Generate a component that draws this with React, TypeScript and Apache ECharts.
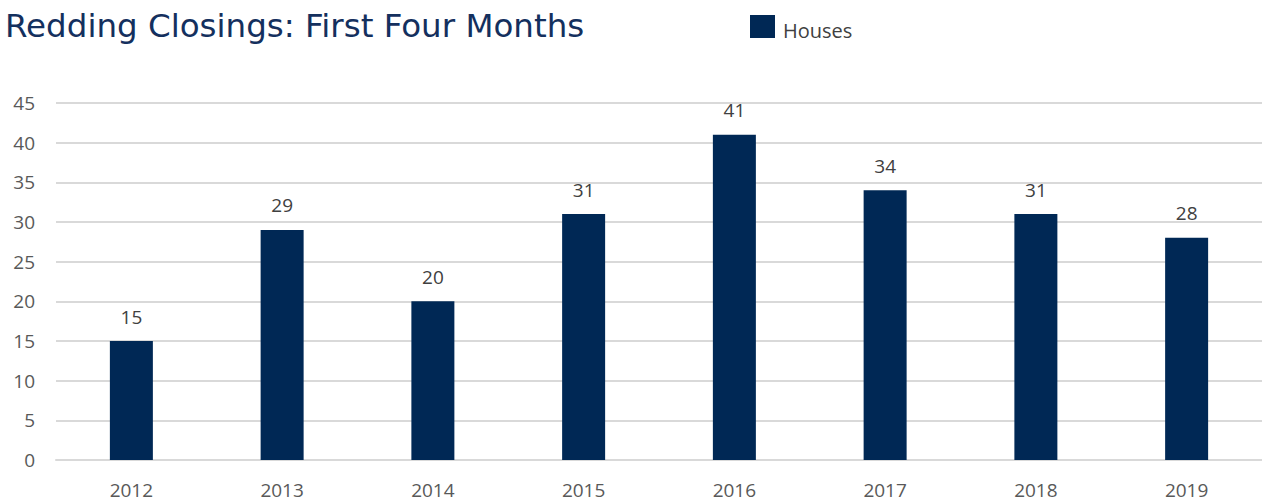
import React, { useEffect, useRef } from "react";
import * as echarts from "echarts";

const categories = ["2012", "2013", "2014", "2015", "2016", "2017", "2018", "2019"];
const houses = [15, 29, 20, 31, 41, 34, 31, 28];
const titleText = "Redding Closings: First Four Months";
const seriesName = "Houses";

export default function App() {
  const ref = useRef<HTMLDivElement>(null);
  useEffect(() => {
    if (!ref.current) return;
    const chart = echarts.init(ref.current, undefined, { renderer: "svg" });
    chart.setOption({
      animation: false,
      title: {
        text: titleText,
        left: 0,
        top: 4,
        textStyle: {
          fontFamily: "DejaVu Sans",
          fontWeight: "normal",
          fontSize: 32.5,
          color: "#14305e",
        },
      },
      legend: {
        data: [seriesName],
        left: 750,
        top: 15,
        padding: 0,
        itemWidth: 25,
        itemHeight: 23,
        icon: "rect",
        formatter: "{a|{name}}",
        textStyle: {
          fontFamily: "Open Sans",
          fontSize: 20,
          color: "#404040",
          rich: {
            a: {
              fontFamily: "Open Sans",
              fontSize: 20,
              color: "#404040",
              padding: [8, 0, 0, 3],
            },
          },
        },
      },
      grid: {
        left: 56,
        top: 103,
        width: 1207,
        bottom: 44,
        containLabel: false,
      },
      xAxis: {
        type: "category",
        data: categories,
        axisLine: { lineStyle: { color: "#d9d9d9", width: 2 } },
        axisTick: { show: false },
        axisLabel: {
          fontFamily: "Open Sans",
          fontSize: 19,
          color: "#595959",
          margin: 20,
        },
      },
      yAxis: {
        type: "value",
        min: 0,
        max: 45,
        interval: 5,
        axisLine: { show: false },
        axisTick: { show: false },
        axisLabel: {
          fontFamily: "Open Sans",
          fontSize: 19,
          color: "#595959",
          margin: 21,
        },
        splitLine: { lineStyle: { color: "#d9d9d9", width: 2 } },
      },
      series: [
        {
          name: seriesName,
          type: "bar",
          data: houses,
          barWidth: 43,
          itemStyle: { color: "#002855" },
          label: {
            show: true,
            position: "top",
            distance: 15,
            fontFamily: "Open Sans",
            fontSize: 19,
            color: "#404040",
          },
        },
      ],
    });
    return () => chart.dispose();
  }, []);
  return (
    <div
      ref={ref}
      style={{ position: "fixed", left: 0, top: 0, width: 1262, height: 504, background: "#fff" }}
    />
  );
}
